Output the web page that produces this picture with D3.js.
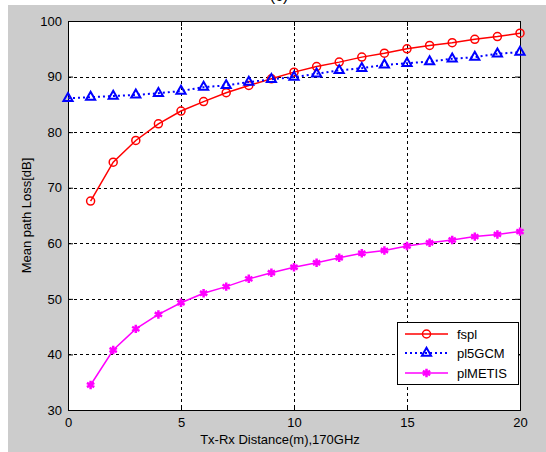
<!DOCTYPE html>
<html>
<head>
<meta charset="utf-8">
<script src="https://cdn.jsdelivr.net/npm/d3@7"></script>
<style>
  body { margin: 0; background: #fff; }
  svg { display: block; font-family: Arial, "Liberation Sans", sans-serif; }
</style>
</head>
<body>
<script>
// values
var distA = [1, 2, 3, 4, 5, 6, 7, 8, 9, 10, 11, 12, 13, 14, 15, 16, 17, 18, 19, 20];
var distB = [0, 1, 2, 3, 4, 5, 6, 7, 8, 9, 10, 11, 12, 13, 14, 15, 16, 17, 18, 19, 20];
var fspl = [67.6, 74.6, 78.5, 81.5, 83.8, 85.5, 87.1, 88.4, 89.6, 90.8, 91.8, 92.6, 93.5, 94.2, 95.0, 95.6, 96.1, 96.7, 97.2, 97.8];
var pl5GCM = [86.1, 86.3, 86.5, 86.7, 87.0, 87.4, 88.1, 88.4, 89.0, 89.5, 89.9, 90.5, 91.1, 91.5, 92.1, 92.4, 92.7, 93.2, 93.5, 94.1, 94.4];
var plMETIS = [34.5, 40.8, 44.6, 47.2, 49.3, 51.0, 52.2, 53.6, 54.7, 55.7, 56.5, 57.4, 58.2, 58.7, 59.5, 60.1, 60.6, 61.2, 61.6, 62.1];
var xTicks = [0, 5, 10, 15, 20];
var yTicks = [30, 40, 50, 60, 70, 80, 90, 100];
var seriesNames = ["fspl", "pl5GCM", "plMETIS"];

var width = 546, height = 452;
var margin = { top: 21, right: 26, bottom: 42, left: 68 };

var svg = d3.select("body").append("svg")
    .attr("width", width).attr("height", height);

// title, mostly cut off at the top in the original
svg.append("text").attr("x", 279).attr("y", 1).attr("text-anchor", "middle")
    .attr("font-size", 16).attr("fill", "#000").text("(c)");

// grey figure background
svg.append("rect").attr("x", 8).attr("y", 5).attr("width", width - 8).attr("height", height - 5)
    .attr("fill", "#cccccc");

var x = d3.scaleLinear().domain([0, 20]).range([margin.left, width - margin.right]);
var y = d3.scaleLinear().domain([30, 100]).range([height - margin.bottom, margin.top]);

svg.append("rect")
    .attr("x", x(0)).attr("y", y(100))
    .attr("width", x(20) - x(0)).attr("height", y(30) - y(100))
    .attr("fill", "#fff");

// grid
var grid = svg.append("g").attr("stroke", "#000").attr("stroke-width", 1).attr("stroke-dasharray", "3,3");
grid.selectAll(".gx").data(xTicks.slice(1, -1)).enter().append("line")
    .attr("x1", d => x(d) + 0.5).attr("x2", d => x(d) + 0.5)
    .attr("y1", y(100)).attr("y2", y(30));
grid.selectAll(".gy").data(yTicks.slice(1, -1)).enter().append("line")
    .attr("y1", d => Math.round(y(d)) + 0.5).attr("y2", d => Math.round(y(d)) + 0.5)
    .attr("x1", x(0)).attr("x2", x(20));

// axes with inner ticks
var xAxis = g => g.attr("transform", "translate(0," + y(30) + ")")
    .call(d3.axisBottom(x).tickValues(xTicks).tickSize(-5).tickPadding(8))
var yAxis = g => g.attr("transform", "translate(" + x(0) + ",0)")
    .call(d3.axisLeft(y).tickValues(yTicks).tickSize(-5).tickPadding(6))
var xTop = g => g.attr("transform", "translate(0," + y(100) + ")")
    .call(d3.axisTop(x).tickValues(xTicks).tickSize(-5).tickFormat(""))
var yRight = g => g.attr("transform", "translate(" + x(20) + ",0)")
    .call(d3.axisRight(y).tickValues(yTicks).tickSize(-5).tickFormat(""))

;[xAxis, yAxis, xTop, yRight].forEach(function(a) {
    var g = svg.append("g").call(a);
    g.selectAll("text").attr("font-size", 13).attr("fill", "#000").attr("font-family", "Arial, 'Liberation Sans', sans-serif");
    g.select(".domain").attr("stroke", "#000");
});

var line = d3.line().x(d => x(d[0])).y(d => y(d[1]));

// fspl
var redPts = distA.map((d, i) => [d, fspl[i]]);
svg.append("path").datum(redPts).attr("d", line)
    .attr("fill", "none").attr("stroke", "#ff0000").attr("stroke-width", 1.5);
svg.selectAll(".red").data(redPts).enter().append("circle")
    .attr("cx", d => x(d[0])).attr("cy", d => y(d[1])).attr("r", 4)
    .attr("fill", "none").attr("stroke", "#ff0000").attr("stroke-width", 1.5);

// pl5GCM
var bluePts = distB.map((d, i) => [d, pl5GCM[i]]);
var tri = d3.symbol().type(d3.symbolTriangle2).size(60);
svg.append("path").datum(bluePts).attr("d", line)
    .attr("fill", "none").attr("stroke", "#0000ff").attr("stroke-width", 2).attr("stroke-dasharray", "2,3");
svg.selectAll(".blue").data(bluePts).enter().append("path")
    .attr("d", tri)
    .attr("transform", d => "translate(" + x(d[0]) + "," + y(d[1]) + ")")
    .attr("fill", "none").attr("stroke", "#0000ff").attr("stroke-width", 2);

// plMETIS
var magPts = distA.map((d, i) => [d, plMETIS[i]]);
var star = d3.symbol().type(d3.symbolAsterisk).size(50);
svg.append("path").datum(magPts).attr("d", line)
    .attr("fill", "none").attr("stroke", "#ff00ff").attr("stroke-width", 1.5);
svg.selectAll(".mag").data(magPts).enter().append("path")
    .attr("d", star)
    .attr("transform", d => "translate(" + x(d[0]) + "," + y(d[1]) + ")")
    .attr("fill", "none").attr("stroke", "#ff00ff").attr("stroke-width", 2.5);

// axis labels
svg.append("text").attr("x", 280).attr("y", 444).attr("text-anchor", "middle")
    .attr("font-size", 13).attr("fill", "#000").text("Tx-Rx Distance(m),170GHz");
svg.append("text").attr("transform", "translate(31," + (y(65)) + ") rotate(-90)")
    .attr("text-anchor", "middle").attr("font-size", 13).attr("fill", "#000").text("Mean path Loss[dB]");

// legend
var lg = svg.append("g");
lg.append("rect").attr("x", 397.5).attr("y", 322.5).attr("width", 121).attr("height", 62)
    .attr("fill", "#fff").attr("stroke", "#000");
var rowY = [334, 353, 373];
var rowStyle = [
    { c: "#ff0000", w: 1.5, dash: null },
    { c: "#0000ff", w: 2, dash: "2,3" },
    { c: "#ff00ff", w: 1.5, dash: null }
];
seriesNames.forEach(function(name, i) {
    var s = rowStyle[i];
    lg.append("line").attr("x1", 405).attr("x2", 448).attr("y1", rowY[i]).attr("y2", rowY[i])
        .attr("stroke", s.c).attr("stroke-width", s.w).attr("stroke-dasharray", s.dash);
    var m;
    if (i == 0) m = lg.append("circle").attr("r", 4).attr("cx", 426.5).attr("cy", rowY[i]).attr("fill", "none");
    else m = lg.append("path").attr("d", i == 1 ? tri : star).attr("transform", "translate(426.5," + rowY[i] + ")").attr("fill", "none");
    m.attr("stroke", s.c).attr("stroke-width", i == 2 ? 2.5 : (i == 1 ? 2 : 1.5));
    lg.append("text").attr("x", 457).attr("y", rowY[i] + 4.5).attr("font-size", 13).attr("fill", "#000").text(name);
});
</script>
</body>
</html>
